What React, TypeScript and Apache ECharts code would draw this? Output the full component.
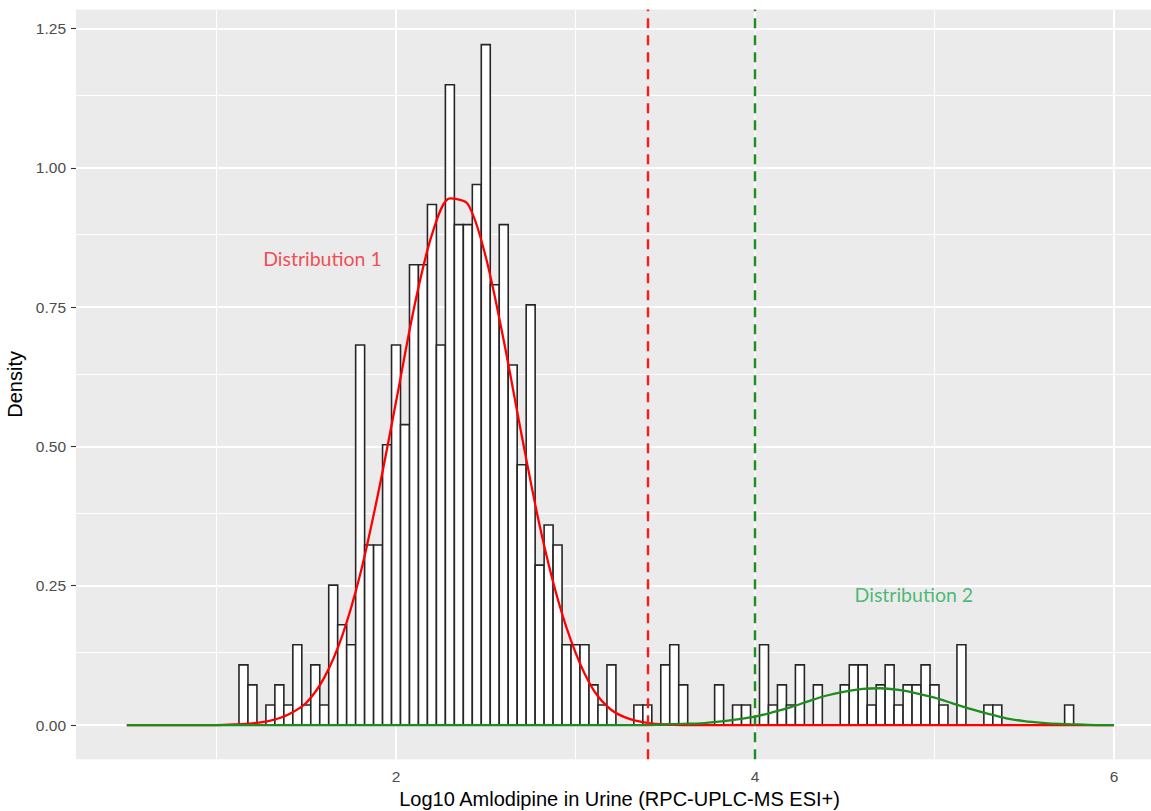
import React, { useEffect, useRef } from "react";
import * as echarts from "echarts";

// Histogram (density scale), binwidth 0.05 starting at 1.125
const binStart = 1.125;
const binWidth = 0.05;
const binDensity = [
  0.108, 0.072, 0, 0.036, 0.072, 0.036, 0.144, 0.036, 0.108, 0.036,
  0.251, 0.18, 0.144, 0.682, 0.323, 0.323, 0.503, 0.682, 0.539, 0.826,
  0.826, 0.934, 0.682, 1.149, 0.898, 0.898, 0.97, 1.221, 0.79, 0.898,
  0.646, 0.467, 0.754, 0.287, 0.359, 0.323, 0.144, 0.144, 0.144, 0.072,
  0.036, 0.108, 0, 0, 0.036, 0.036, 0, 0.108, 0.144, 0.072,
  0, 0, 0, 0.072, 0, 0.036, 0.036, 0, 0.144, 0.036,
  0.072, 0.036, 0.108, 0, 0.072, 0, 0, 0.072, 0.108, 0.108,
  0.036, 0.072, 0.108, 0.036, 0.072, 0.072, 0.108, 0.072, 0.036, 0,
  0.144, 0, 0, 0.036, 0.036, 0, 0, 0, 0, 0,
  0, 0, 0.036,
];

// Fitted mixture component curves, read at x = 0.5 ... 6.0
const curveX = [
  0.5, 0.6, 0.7, 0.8, 0.9, 1.0, 1.1, 1.2, 1.3, 1.4,
  1.5, 1.6, 1.7, 1.8, 1.9, 2.0, 2.1, 2.2, 2.3, 2.4,
  2.5, 2.6, 2.7, 2.8, 2.9, 3.0, 3.1, 3.2, 3.3, 3.4,
  3.5, 3.6, 3.7, 3.8, 3.9, 4.0, 4.1, 4.2, 4.3, 4.4,
  4.5, 4.6, 4.7, 4.8, 4.9, 5.0, 5.1, 5.2, 5.3, 5.4,
  5.5, 5.6, 5.7, 5.8, 5.9, 6.0,
];
const dist1Curve = [
  0, 0, 0, 0, 0, 0, 0.001, 0.003, 0.008, 0.019,
  0.04, 0.085, 0.16, 0.27, 0.415, 0.58, 0.748, 0.88, 0.945, 0.935,
  0.84, 0.69, 0.52, 0.358, 0.227, 0.13, 0.063, 0.027, 0.011, 0.004,
  0.001, 0, 0, 0, 0, 0, 0, 0, 0, 0,
  0, 0, 0, 0, 0, 0, 0, 0, 0, 0,
  0, 0, 0, 0, 0, 0,
];
const dist2Curve = [
  0, 0, 0, 0, 0, 0, 0, 0, 0, 0,
  0, 0, 0, 0, 0, 0, 0, 0, 0, 0,
  0, 0, 0, 0, 0, 0, 0, 0, 0, 0,
  0.001, 0.002, 0.003, 0.006, 0.01, 0.015, 0.023, 0.032, 0.043, 0.053,
  0.06, 0.065, 0.066, 0.063, 0.057, 0.049, 0.039, 0.029, 0.02, 0.012,
  0.007, 0.004, 0.002, 0.001, 0, 0,
];

const cutoffValues = [3.405, 4.0];
const cutoffColors = ["#ff1a1a", "#1e8c1e"];

const xTickValues = [2, 4, 6];
const xMinorValues = [1, 3, 5];
const yTickValues = [0, 0.25, 0.5, 0.75, 1.0, 1.25];
const yMinorValues = [0.125, 0.375, 0.625, 0.875, 1.125];

const annotationTexts = ["Distribution 1", "Distribution 2"];
const annotationX = [1.59, 4.885];
const annotationY = [0.837, 0.235];
const annotationColors = ["#f0242c", "#1fab57"];

const xTitle = "Log10 Amlodipine in Urine (RPC-UPLC-MS ESI+)";
const yTitle = "Density";

export default function App() {
  const ref = useRef<HTMLDivElement>(null);
  useEffect(() => {
    document.body.style.margin = "0";
    if (!ref.current) return;
    const chart = echarts.init(ref.current, null, { renderer: "svg" });

    const bins = binDensity.map((d, i) => [
      +(binStart + i * binWidth).toFixed(4),
      +(binStart + (i + 1) * binWidth).toFixed(4),
      d,
    ]);
    const red = curveX.map((x, i) => [x, dist1Curve[i]]);
    const green = curveX.map((x, i) => [x, dist2Curve[i]]);

    const font = "'Liberation Sans', Arial, Helvetica, sans-serif";

    const option: any = {
      animation: false,
      backgroundColor: "#ffffff",
      grid: {
        left: 76,
        right: -12,
        top: 9.5,
        bottom: 811 - 759.3,
        show: true,
        backgroundColor: "#ebebeb",
        borderWidth: 0,
        containLabel: false,
        outerBoundsMode: "none",
      },
      xAxis: {
        type: "value",
        min: 0.217,
        max: 6.273,
        axisLine: { show: false },
        axisTick: {
          show: true,
          customValues: xTickValues,
          length: 5,
          lineStyle: { color: "#333333", width: 1.1 },
        },
        axisLabel: {
          show: true,
          customValues: xTickValues,
          margin: 9,
          color: "#4d4d4d",
          fontSize: 15.5,
          fontFamily: font,
        },
        splitLine: { show: false },
        minorTick: { show: false },
        minorSplitLine: { show: false },
        name: xTitle,
        nameLocation: "middle",
        nameGap: 30,
        nameTextStyle: { color: "#000000", fontSize: 20, fontFamily: font },
      },
      yAxis: {
        type: "value",
        min: -0.0615,
        max: 1.284,
        axisLine: { show: false },
        axisTick: {
          show: true,
          customValues: yTickValues,
          length: 5,
          lineStyle: { color: "#333333", width: 1.1 },
        },
        axisLabel: {
          show: true,
          customValues: yTickValues,
          margin: 10,
          color: "#4d4d4d",
          fontSize: 15.5,
          fontFamily: font,
          formatter: (v: number) => v.toFixed(2),
        },
        splitLine: { show: false },
        minorTick: { show: false },
        minorSplitLine: { show: false },
        name: yTitle,
        nameLocation: "middle",
        nameRotate: 90,
        nameGap: 47,
        nameTextStyle: { color: "#000000", fontSize: 20, fontFamily: font },
      },
      series: [
        {
          type: "line",
          name: "grid",
          data: [],
          silent: true,
          z: 1,
          markLine: {
            silent: true,
            z: 1,
            symbol: ["none", "none"],
            label: { show: false },
            animation: false,
            data: [
              ...yMinorValues.map((v) => ({ yAxis: v, lineStyle: { color: "#ffffff", width: 1, type: "solid" } })),
              ...xMinorValues.map((v) => ({ xAxis: v, lineStyle: { color: "#ffffff", width: 1, type: "solid" } })),
              ...yTickValues.map((v) => ({ yAxis: v, lineStyle: { color: "#ffffff", width: 2, type: "solid" } })),
              ...xTickValues.map((v) => ({ xAxis: v, lineStyle: { color: "#ffffff", width: 2, type: "solid" } })),
            ],
          },
        },
        {
          type: "custom",
          name: "histogram",
          z: 2,
          data: bins,
          renderItem: (params: any, api: any) => {
            const x0 = api.value(0);
            const x1 = api.value(1);
            const h = api.value(2);
            const p0 = api.coord([x0, h]);
            const p1 = api.coord([x1, 0]);
            return {
              type: "rect",
              shape: { x: p0[0], y: p0[1], width: p1[0] - p0[0], height: p1[1] - p0[1] },
              style: { fill: "#ffffff", stroke: "#262626", lineWidth: 1.6 },
            };
          },
        },
        {
          type: "line",
          name: "Distribution 1",
          data: red,
          z: 3,
          smooth: 0.3,
          showSymbol: false,
          symbol: "none",
          lineStyle: { color: "#ff0000", width: 2.3 },
        },
        {
          type: "line",
          name: "Distribution 2",
          data: green,
          z: 4,
          smooth: 0.3,
          showSymbol: false,
          symbol: "none",
          lineStyle: { color: "#1e8c1e", width: 2.3 },
        },
        {
          type: "line",
          name: "cutoffs",
          data: [],
          z: 6,
          markLine: {
            silent: true,
            z: 6,
            symbol: ["none", "none"],
            label: { show: false },
            animation: false,
            data: cutoffValues.map((v, i) => ({
              xAxis: v,
              lineStyle: { color: cutoffColors[i], width: 2.4, type: [10, 7] },
            })),
          },
        },
        {
          type: "scatter",
          name: "annotations",
          z: 7,
          symbolSize: 0,
          silent: true,
          data: annotationTexts.map((t, i) => ({
            value: [annotationX[i], annotationY[i]],
            label: {
              show: true,
              position: "inside",
              formatter: t,
              color: annotationColors[i],
              fontSize: 19.5,
              fontFamily: "Lato, 'Noto Sans', sans-serif",
            },
          })),
        },
      ],
    };
    chart.setOption(option);
    return () => chart.dispose();
  }, []);
  return <div ref={ref} style={{ width: 1151, height: 811 }} />;
}
